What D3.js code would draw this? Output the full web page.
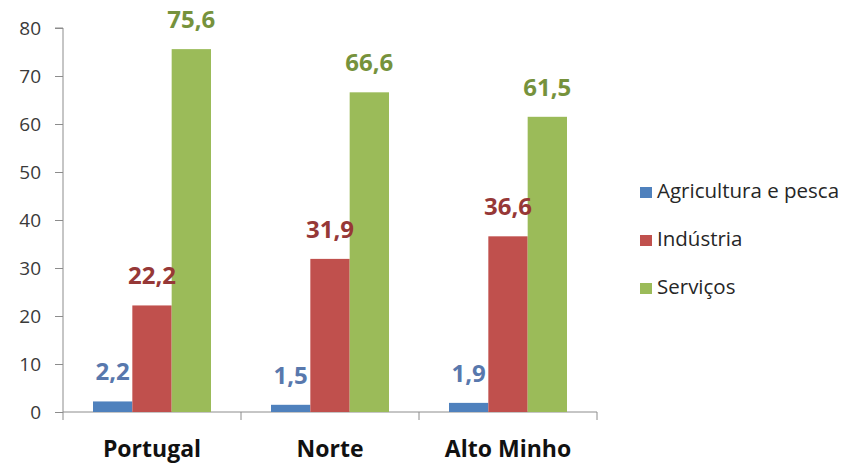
<!DOCTYPE html>
<html>
<head>
<meta charset="utf-8">
<script src="https://cdn.jsdelivr.net/npm/d3@7"></script>
<style>
  html, body { margin: 0; padding: 0; background: #ffffff; }
  svg { display: block; font-family: "Open Sans", Lato, sans-serif; }
</style>
</head>
<body>
<svg id="chart" width="852" height="466"></svg>
<script>
// Employment by sector (%)
const regions = ["Portugal", "Norte", "Alto Minho"];
const sectors = ["Agricultura e pesca", "Indústria", "Serviços"];
const agricultura = [2.2, 1.5, 1.9];
const industria = [22.2, 31.9, 36.6];
const servicos = [75.6, 66.6, 61.5];
const yTicks = [0, 10, 20, 30, 40, 50, 60, 70, 80];

const seriesValues = [agricultura, industria, servicos];
const barColors = ["#4f81bd", "#c0504d", "#9bbb59"];
const labelColors = ["#5878ad", "#963837", "#76923c"];

const svg = d3.select("#chart");
const plotLeft = 63, plotRight = 597, plotTop = 28, plotBottom = 412;

const x0 = d3.scaleBand().domain(regions).range([plotLeft, plotRight]).paddingInner(0).paddingOuter(0);
const x1 = d3.scaleBand().domain(sectors).range([30, x0.bandwidth() - 30]);
const y = d3.scaleLinear().domain([0, 80]).range([plotBottom, plotTop]);

const axisColor = "#8c8c8c";

// y axis
const yAxis = svg.append("g")
  .attr("transform", `translate(${plotLeft},0)`)
  .call(d3.axisLeft(y).tickValues(yTicks).tickSize(8).tickPadding(14).tickFormat(d3.format("d")));
yAxis.select(".domain").attr("stroke", axisColor).attr("d", `M-8,${plotTop}H0V${plotBottom}`);
yAxis.selectAll(".tick line").attr("stroke", axisColor);
yAxis.selectAll(".tick text")
  .attr("fill", "#3a3a3a").attr("font-size", 19).attr("font-family", "'Open Sans', sans-serif");

// x axis with ticks at category boundaries
const xAxis = svg.append("g");
xAxis.append("line")
  .attr("x1", plotLeft).attr("x2", plotRight).attr("y1", plotBottom).attr("y2", plotBottom)
  .attr("stroke", axisColor);
const boundaries = regions.map(r => x0(r)).concat([plotRight]);
xAxis.selectAll("line.tk").data(boundaries).join("line")
  .attr("class", "tk")
  .attr("x1", d => d).attr("x2", d => d)
  .attr("y1", plotBottom).attr("y2", plotBottom + 8)
  .attr("stroke", axisColor);
xAxis.selectAll("text").data(regions).join("text")
  .attr("x", d => x0(d) + x0.bandwidth() / 2)
  .attr("y", 457)
  .attr("text-anchor", "middle")
  .attr("font-size", 23).attr("font-weight", "bold")
  .attr("fill", "#111111")
  .text(d => d);

// bars first, then value labels on top of every bar
const barLayer = svg.append("g");
const labelLayer = svg.append("g");

sectors.forEach((s, si) => {
  barLayer.append("g").selectAll("rect").data(regions).join("rect")
    .attr("x", d => x0(d) + x1(s))
    .attr("width", x1.bandwidth())
    .attr("y", (d, i) => y(seriesValues[si][i]))
    .attr("height", (d, i) => plotBottom - y(seriesValues[si][i]))
    .attr("fill", barColors[si]);
  labelLayer.append("g").selectAll("text").data(regions).join("text")
    .attr("x", d => x0(d) + x1(s) + x1.bandwidth() / 2)
    .attr("y", (d, i) => y(seriesValues[si][i]) - 21)
    .attr("text-anchor", "middle")
    .attr("font-size", 24).attr("font-weight", "bold")
    .attr("fill", labelColors[si])
    .text((d, i) => d3.format(".1f")(seriesValues[si][i]).replace(".", ","));
});

// legend
const legend = svg.append("g").selectAll("g").data(sectors).join("g")
  .attr("transform", (d, i) => `translate(640,${198 + i * 48})`);
legend.append("rect")
  .attr("x", 0).attr("y", -11).attr("width", 12).attr("height", 11)
  .attr("fill", (d, i) => barColors[i]);
legend.append("text")
  .attr("x", 17).attr("y", 0)
  .attr("font-size", 20.5).attr("fill", "#262626")
  .text(d => d);
</script>
</body>
</html>
